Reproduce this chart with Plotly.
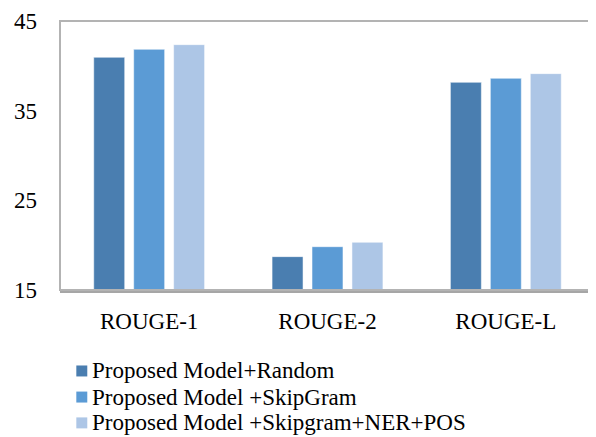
import plotly.graph_objects as go

categories = ["ROUGE-1", "ROUGE-2", "ROUGE-L"]
series_names = [
    "Proposed Model+Random",
    "Proposed Model +SkipGram",
    "Proposed Model +Skipgram+NER+POS",
]
random_vals = [40.95, 18.72, 38.16]
skipgram_vals = [41.84, 19.83, 38.61]
full_vals = [42.36, 20.32, 39.13]
y_ticks = [15, 25, 35, 45]

colors = ["#4a7eb0", "#5b9bd5", "#adc6e6"]
font = "Liberation Serif, Times New Roman, serif"

fig = go.Figure()
for name, vals, c in zip(series_names, [random_vals, skipgram_vals, full_vals], colors):
    fig.add_trace(go.Bar(
        x=categories, y=vals, name=name, showlegend=False,
        marker=dict(color=c, line=dict(color="rgba(255,255,255,0.5)", width=1)),
    ))

# manual legend (entries stacked tighter than Plotly's native legend allows)
shapes = [dict(
    type="rect", xref="paper", yref="paper", x0=0, x1=1, y0=0, y1=1,
    line=dict(color="#b3b3b3", width=2), fillcolor="rgba(0,0,0,0)", layer="above",
)]
annotations = []
row_y = [-0.301, -0.398, -0.494]
for name, c, yy in zip(series_names, colors, row_y):
    shapes.append(dict(
        type="rect", xref="paper", yref="paper",
        x0=0.0305, x1=0.051, y0=yy - 0.0204, y1=yy + 0.0204,
        line=dict(width=0), fillcolor=c,
    ))
    annotations.append(dict(
        xref="paper", yref="paper", x=0.056, y=yy, xanchor="left", yanchor="middle",
        text=name, showarrow=False, font=dict(family=font, size=23, color="black"),
    ))

fig.update_layout(
    width=588, height=429,
    margin=dict(l=52, r=1, t=13, b=147, autoexpand=False),
    paper_bgcolor="white", plot_bgcolor="white",
    barmode="group", bargap=0.328, bargroupgap=0.225,
    font=dict(family=font, size=23, color="black"),
    showlegend=False,
    xaxis=dict(
        showline=True, linecolor="#a6a6a6", linewidth=3,
        showgrid=False, ticks="", ticklabelstandoff=8,
        tickfont=dict(family=font, size=23, color="black"),
    ),
    yaxis=dict(
        range=[15, 45], tickvals=y_ticks, showgrid=False, zeroline=False,
        showline=False, ticks="", ticklabelstandoff=22,
        tickfont=dict(family=font, size=23, color="black"),
    ),
    shapes=shapes,
    annotations=annotations,
)

fig.write_html("out.html")
